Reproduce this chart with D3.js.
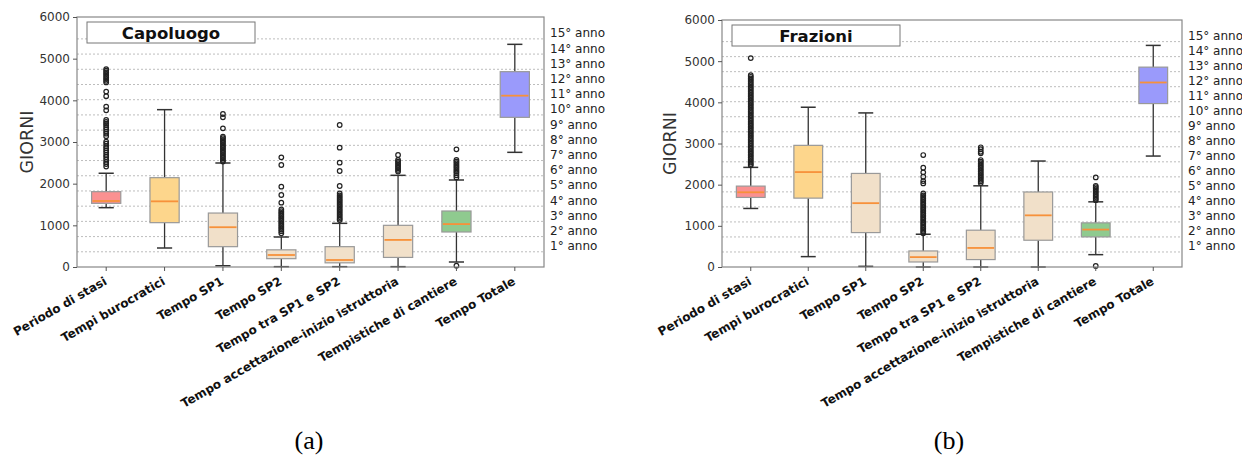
<!DOCTYPE html>
<html>
<head>
<meta charset="utf-8">
<script src="https://cdn.jsdelivr.net/npm/d3@7"></script>
<style>
  body { margin: 0; background: #fff; }
  svg { font-family: "DejaVu Sans", sans-serif; }
</style>
</head>
<body>
<div id="chart"></div>
<script>
// categories and colours shared by both panels
var categories = ["Periodo di stasi", "Tempi burocratici", "Tempo SP1", "Tempo SP2",
    "Tempo tra SP1 e SP2", "Tempo accettazione-inizio istruttoria",
    "Tempistiche di cantiere", "Tempo Totale"];
var boxColors = ["#fa9191", "#fdd68c", "#f1e0c9", "#f1e0c9", "#f1e0c9", "#f1e0c9", "#8fca8f", "#9a9afb"];

var yTicks = [0, 1000, 2000, 3000, 4000, 5000, 6000];
var yearDays = [365, 730, 1095, 1460, 1825, 2190, 2555, 2920, 3285, 3650, 4015, 4380, 4745, 5110, 5475];
var yearLabels = ["1° anno", "2° anno", "3° anno", "4° anno", "5° anno", "6° anno", "7° anno", "8° anno",
    "9° anno", "10° anno", "11° anno", "12° anno", "13° anno", "14° anno", "15° anno"];

// panel (a) Capoluogo
var capLow  = [1424, 456, 30, 8, 8, 8, 120, 2752];
var capQ1   = [1528, 1064, 488, 200, 100, 230, 840, 3592];
var capMed  = [1584, 1576, 955, 288, 168, 650, 1030, 4112];
var capQ3   = [1808, 2144, 1295, 412, 488, 1000, 1344, 4688];
var capHigh = [2250, 3776, 2496, 720, 1048, 2200, 2088, 5344];
var capOut = [
    [4750, 4710, 4670, 4630, 4590, 4550, 4510, 4470, 4430, 4210, 4100, 3850, 3760, 3530, 3480, 3440, 3400,
     3350, 3300, 3250, 3200, 3140, 3010, 2960, 2900, 2850, 2800, 2750, 2690, 2640, 2580, 2520, 2470, 2410],
    [],
    [3672, 3592, 3328, 3128, 3090, 3050, 3010, 2970, 2930, 2890, 2850, 2810, 2770, 2730, 2690, 2650, 2610,
     2570, 2530],
    [2632, 2448, 1928, 1728, 1544, 1384, 1340, 1300, 1260, 1220, 1180, 1140, 1100, 1060, 1020, 980, 940,
     900, 860, 810],
    [3408, 2864, 2504, 2304, 1944, 1768, 1720, 1680, 1640, 1600, 1560, 1520, 1480, 1440, 1400, 1360, 1320,
     1280, 1240, 1200, 1160, 1128],
    [2688, 2568, 2530, 2490, 2450, 2410, 2370, 2330, 2290],
    [2824, 2568, 2530, 2490, 2450, 2410, 2370, 2330, 2290, 2250, 2200, 2150, 32],
    []
];

// panel (b) Frazioni
var frzLow  = [1422, 252, 16, 0, 0, 0, 300, 2695];
var frzQ1   = [1690, 1673, 836, 122, 180, 650, 731, 3970];
var frzMed  = [1815, 2306, 1551, 240, 463, 1255, 909, 4482];
var frzQ3   = [1965, 2955, 2273, 390, 894, 1822, 1072, 4855];
var frzHigh = [2420, 3881, 3743, 796, 1972, 2574, 1583, 5383];
var frzOut = [
    [5075, 4660, 4620, 4580, 4540, 4500, 4460, 4420, 4380, 4340, 4300, 4260, 4220, 4180, 4140, 4100, 4060,
     4020, 3980, 3940, 3900, 3860, 3820, 3780, 3740, 3700, 3660, 3620, 3580, 3540, 3500, 3460, 3420, 3380,
     3340, 3300, 3260, 3220, 3180, 3140, 3100, 3060, 3020, 2980, 2940, 2900, 2860, 2820, 2780, 2740, 2700,
     2660, 2620, 2580, 2540, 2500, 2470],
    [],
    [],
    [2720, 2411, 2299, 2192, 2087, 2031, 1787, 1740, 1700, 1660, 1620, 1580, 1540, 1500, 1460, 1420, 1380,
     1340, 1300, 1260, 1220, 1180, 1140, 1100, 1060, 1020, 980, 940, 900, 860, 820],
    [2908, 2860, 2800, 2761, 2598, 2560, 2520, 2480, 2440, 2400, 2360, 2320, 2280, 2240, 2200, 2160, 2120,
     2080, 2040],
    [],
    [2176, 1973, 1940, 1900, 1860, 1820, 1780, 1740, 1700, 1660, 1624, 24],
    []
];

var svg = d3.select("#chart").append("svg")
    .attr("width", 1242)
    .attr("height", 455);

function drawPanel(p) {
    var g = svg.append("g");

    var x = d3.scaleBand()
        .domain(categories)
        .range([p.left, p.right])
        .paddingInner(0).paddingOuter(0);
    var y = d3.scaleLinear()
        .domain([0, 6000])
        .range([p.bottom, p.top]);
    var step = x.bandwidth();
    var cx = function(i) { return x(categories[i]) + step / 2; };

    // dotted year grid
    g.selectAll(".grid").data(yearDays).enter().append("line")
        .attr("x1", p.left).attr("x2", p.right)
        .attr("y1", function(d) { return y(d); })
        .attr("y2", function(d) { return y(d); })
        .attr("stroke", "#bdbdbd")
        .attr("stroke-width", 1)
        .attr("stroke-dasharray", "2,2");

    // year labels on the right
    g.selectAll(".yr").data(yearDays).enter().append("text")
        .attr("x", p.right + 6)
        .attr("y", function(d) { return y(d) - 1.5; })
        .style("font-size", "12px")
        .attr("fill", "#222")
        .text(function(d, i) { return yearLabels[i]; });

    // title box
    g.append("rect")
        .attr("x", p.left + 10).attr("y", p.top + 5)
        .attr("width", 168).attr("height", 21)
        .attr("fill", "#fff").attr("stroke", "#777").attr("stroke-width", 1);
    g.append("text")
        .attr("x", p.left + 94).attr("y", p.top + 21.5)
        .attr("text-anchor", "middle")
        .style("font-size", "16.5px").style("font-weight", "bold")
        .attr("fill", "#111")
        .text(p.title);

    // boxes
    for (var i = 0; i < categories.length; i++) {
        var c = cx(i), bw = step * 0.5, cw = step * 0.26;
        // whiskers
        g.append("line").attr("x1", c).attr("x2", c)
            .attr("y1", y(p.q3[i])).attr("y2", y(p.high[i]))
            .attr("stroke", "#333").attr("stroke-width", 1.3);
        g.append("line").attr("x1", c).attr("x2", c)
            .attr("y1", y(p.q1[i])).attr("y2", y(p.low[i]))
            .attr("stroke", "#333").attr("stroke-width", 1.3);
        g.append("line").attr("x1", c - cw / 2).attr("x2", c + cw / 2)
            .attr("y1", y(p.high[i])).attr("y2", y(p.high[i]))
            .attr("stroke", "#333").attr("stroke-width", 1.5);
        g.append("line").attr("x1", c - cw / 2).attr("x2", c + cw / 2)
            .attr("y1", y(p.low[i])).attr("y2", y(p.low[i]))
            .attr("stroke", "#333").attr("stroke-width", 1.5);
        // box
        g.append("rect")
            .attr("x", c - bw / 2).attr("width", bw)
            .attr("y", y(p.q3[i])).attr("height", y(p.q1[i]) - y(p.q3[i]))
            .attr("fill", boxColors[i])
            .attr("stroke", "#999").attr("stroke-width", 1.2);
        // median
        g.append("line").attr("x1", c - bw / 2 + 1).attr("x2", c + bw / 2 - 1)
            .attr("y1", y(p.med[i])).attr("y2", y(p.med[i]))
            .attr("stroke", "#f7913a").attr("stroke-width", 1.8);
        // outliers
        g.selectAll(".out" + i).data(p.out[i]).enter().append("circle")
            .attr("cx", c)
            .attr("cy", function(d) { return y(d); })
            .attr("r", 2.3)
            .attr("fill", "none")
            .attr("stroke", "#222").attr("stroke-width", 1.2);
    }

    // frame
    g.append("rect")
        .attr("x", p.left).attr("y", p.top)
        .attr("width", p.right - p.left).attr("height", p.bottom - p.top)
        .attr("fill", "none").attr("stroke", "#888").attr("stroke-width", 1.2);

    // y axis
    var ya = g.append("g")
        .attr("transform", "translate(" + p.left + ",0)")
        .call(d3.axisLeft(y).tickValues(yTicks).tickSize(4).tickPadding(3).tickFormat(d3.format("d")));
    ya.select(".domain").remove();
    ya.selectAll("line").attr("stroke", "#555");
    ya.selectAll("text").style("font-size", "12px").style("font-family", "DejaVu Sans").attr("fill", "#333");

    // x axis
    var xa = g.append("g")
        .attr("transform", "translate(0," + p.bottom + ")")
        .call(d3.axisBottom(x).tickSize(4).tickPadding(3));
    xa.select(".domain").remove();
    xa.selectAll("line").attr("stroke", "#555");
    xa.selectAll("text")
        .style("font-size", "12px").style("font-family", "DejaVu Sans").style("font-weight", "bold")
        .attr("fill", "#111")
        .attr("text-anchor", "end")
        .attr("dy", "0.35em")
        .attr("y", 11)
        .attr("x", -7)
        .attr("transform", "rotate(-30)");

    // y label
    g.append("text")
        .attr("transform", "translate(" + p.ylabX + "," + ((p.top + p.bottom) / 2) + ") rotate(-90)")
        .attr("text-anchor", "middle")
        .attr("dy", "0.35em")
        .style("font-size", "17.5px")
        .attr("fill", "#333")
        .text("GIORNI");

    // caption
    g.append("text")
        .attr("x", p.capX).attr("y", 449)
        .attr("text-anchor", "middle")
        .style("font-family", "Liberation Serif")
        .style("font-size", "26px")
        .attr("fill", "#000")
        .text(p.caption);
}

drawPanel({left: 77, right: 544, top: 17, bottom: 267, title: "Capoluogo", ylabX: 27, capX: 309, caption: "(a)",
    low: capLow, q1: capQ1, med: capMed, q3: capQ3, high: capHigh, out: capOut});
drawPanel({left: 722, right: 1182, top: 20, bottom: 267, title: "Frazioni", ylabX: 670, capX: 949, caption: "(b)",
    low: frzLow, q1: frzQ1, med: frzMed, q3: frzQ3, high: frzHigh, out: frzOut});
</script>
</body>
</html>
